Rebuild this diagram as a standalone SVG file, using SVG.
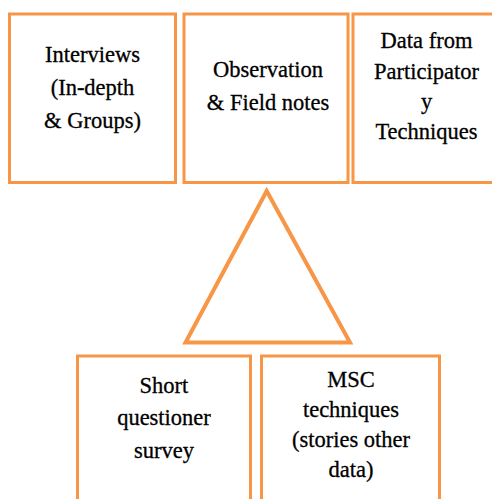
<svg xmlns="http://www.w3.org/2000/svg" width="492" height="499" viewBox="0 0 492 499">
<style>
.box{fill:#fff;stroke:#F79646;stroke-width:3}
.tri{fill:none;stroke:#F79646;stroke-width:4;stroke-linejoin:miter}
.t{font-family:'Liberation Serif','Times New Roman',serif;font-size:22.5px;fill:#000;stroke:#000;stroke-width:0.3;text-anchor:middle}
</style>
<rect width="492" height="499" fill="#fff"/>
<g id="node-interviews">
<rect class="box" x="9.5" y="14" width="166" height="168.5"/>
<text class="t" x="92.5" y="62">Interviews</text>
<text class="t" x="92.5" y="95">(In-depth</text>
<text class="t" x="92.5" y="127.5">&amp; Groups)</text>
</g>
<g id="node-observation">
<rect class="box" x="184" y="14" width="164" height="168.5"/>
<text class="t" x="268" y="77">Observation</text>
<text class="t" x="268" y="110">&amp; Field notes</text>
</g>
<g id="node-participatory">
<rect class="box" x="353" y="14" width="150" height="168.5"/>
<text class="t" x="426.5" y="48">Data from</text>
<text class="t" x="426.5" y="78.5">Participator</text>
<text class="t" x="426.5" y="108.5">y</text>
<text class="t" x="426.5" y="138.5">Techniques</text>
</g>
<g id="connectors">
<polygon class="tri" points="266.7,191 185.5,342.5 350,342.5"/>
</g>
<g id="node-survey">
<rect class="box" x="77.5" y="356" width="173" height="150"/>
<text class="t" x="164" y="393">Short</text>
<text class="t" x="164" y="425">questioner</text>
<text class="t" x="164" y="457.5">survey</text>
</g>
<g id="node-msc">
<rect class="box" x="261.5" y="356" width="178" height="150"/>
<text class="t" x="351" y="387">MSC</text>
<text class="t" x="351" y="417">techniques</text>
<text class="t" x="351" y="447">(stories other</text>
<text class="t" x="351" y="477">data)</text>
</g>
</svg>
